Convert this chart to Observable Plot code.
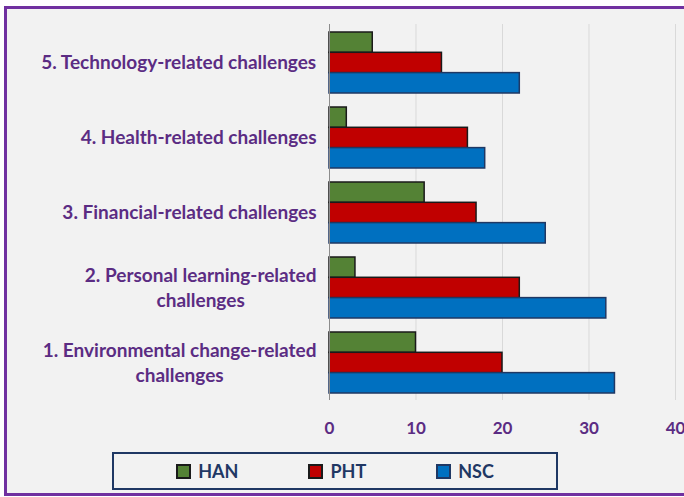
<!DOCTYPE html>
<html>
<head>
<meta charset="utf-8">
<script src="https://cdn.jsdelivr.net/npm/d3@7"></script>
<script src="https://cdn.jsdelivr.net/npm/@observablehq/plot@0.6"></script>
<style>
  html, body { margin: 0; padding: 0; background: #ffffff; width: 684px; height: 497px; overflow: hidden; }
  #frame { position: absolute; left: 4px; top: 6px; width: 700px; height: 484px; border: 3px solid #7030A0; background: #f2f2f2; }
  #chart { position: absolute; left: 0; top: 0; }
  #legend { position: absolute; left: 112px; top: 452px; width: 442px; height: 34px; border: 2px solid #1f3864;
    display: flex; align-items: center; justify-content: center; gap: 70px; font-family: Lato, sans-serif; font-weight: bold;
    font-size: 18px; color: #1f3864; }
  .item { display: flex; align-items: center; }
  .sw { width: 11px; height: 11px; border: 2px solid #000; margin-right: 7px; }
</style>
</head>
<body>
<div id="frame"></div>
<div id="chart"></div>
<div id="legend"></div>
<script>
const categories = [
  "1. Environmental change-related\nchallenges",
  "2. Personal learning-related\nchallenges",
  "3. Financial-related challenges",
  "4. Health-related challenges",
  "5. Technology-related challenges"
];
const series = ["HAN", "PHT", "NSC"];
const han = [10, 3, 11, 2, 5];
const pht = [20, 22, 17, 16, 13];
const nsc = [33, 32, 25, 18, 22];
const xTicks = [0, 10, 20, 30, 40];

const colors = {HAN: "#548235", PHT: "#C00000", NSC: "#0070C0"};
const strokes = {HAN: "#1a1a1a", PHT: "#1a1a1a", NSC: "#1f3864"};
const purple = "#5b2c83";

const values = {HAN: han, PHT: pht, NSC: nsc};
const rows = [];
series.forEach(s => categories.forEach((c, i) => rows.push({category: c, series: s, value: values[s][i]})));

const W = 684, H = 497;
const mt = 24, mb = 97, ml = 329, mr = 9;
const padIn = 0.19, padOut = 0.095;
const yDomain = categories.slice().reverse();
const bw = d3.scaleBand().domain(yDomain).range([mt, H - mb]).paddingInner(padIn).paddingOuter(padOut).bandwidth();
const bar = bw / series.length;

const labelSize = 19;
const ctx = document.createElement("canvas").getContext("2d");
ctx.font = `bold ${labelSize}px Lato`;
const blockWidth = t => Math.max(...t.split("\n").map(l => ctx.measureText(l).width));

const barMarks = series.map((s, k) => Plot.barX(rows.filter(r => r.series === s), {
  y: "category", x: "value", fill: colors[s], stroke: strokes[s], strokeWidth: 1.5,
  insetTop: k * bar, insetBottom: (series.length - 1 - k) * bar
}));

const labelMarks = categories.map(c => Plot.text([c], {
  x: () => 0, y: d => d, text: d => d, textAnchor: "middle", lineHeight: 1.32,
  dx: -(13 + blockWidth(c) / 2), dy: -2, fill: purple, fontSize: labelSize, fontWeight: "bold"
}));

const plot = Plot.plot({
  width: W, height: H,
  marginTop: mt, marginBottom: mb, marginLeft: ml, marginRight: mr,
  style: {background: "transparent", fontFamily: "Lato, sans-serif", color: purple, overflow: "visible"},
  x: {domain: [0, 40], ticks: xTicks, tickSize: 0, tickPadding: 21, label: null},
  y: {domain: yDomain, paddingInner: padIn, paddingOuter: padOut, axis: null},
  marks: [
    Plot.ruleX(xTicks.slice(1), {stroke: "#d9d9d9", strokeWidth: 1}),
    ...barMarks,
    Plot.ruleX([0], {stroke: "#8c8c8c", strokeWidth: 1}),
    ...labelMarks
  ]
});
plot.style.fontWeight = "bold";
plot.style.fontSize = "17px";
document.getElementById("chart").appendChild(plot);

const legend = document.getElementById("legend");
series.forEach(s => {
  const it = document.createElement("div"); it.className = "item";
  const sw = document.createElement("div"); sw.className = "sw";
  sw.style.background = colors[s]; sw.style.borderColor = s === "NSC" ? "#1f3864" : "#1a1a1a";
  const tx = document.createElement("span"); tx.textContent = s;
  it.appendChild(sw); it.appendChild(tx); legend.appendChild(it);
});
</script>
</body>
</html>
